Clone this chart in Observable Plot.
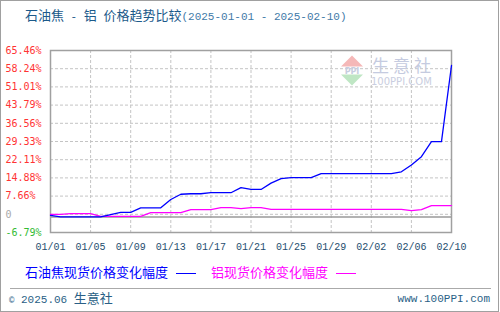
<!DOCTYPE html>
<html>
<head>
<meta charset="utf-8">
<script src="https://cdn.jsdelivr.net/npm/d3@7"></script>
<script src="https://cdn.jsdelivr.net/npm/@observablehq/plot@0.6"></script>
<style>
  body { margin: 0; background: #fff; }
  #wrap { position: relative; width: 500px; height: 312px; overflow: hidden; background: #fff; font-family: "Noto Sans CJK SC", sans-serif; }
  .abs { position: absolute; white-space: pre; }
  .mono { font-family: "Liberation Mono", "DejaVu Sans Mono", monospace; }
</style>
</head>
<body>
<div id="wrap">
  <div id="plot" class="abs" style="left:0;top:0"></div>
  <div class="abs" style="left:25px;top:6px;font-size:13px;line-height:18px;color:#1c5a8a">石油焦<span class="mono" style="font-size:11px"> - </span>铝<span class="mono" style="font-size:11px"> </span>价格趋势比较<span class="mono" style="font-size:11px;color:#3f7aa8">(2025-01-01 - 2025-02-10)</span></div>
  <!-- watermark -->
  <svg class="abs" style="left:338px;top:52px" width="110" height="40">
    <polygon points="3,14.5 14,3.5 25,14.5" fill="#f5b8b8"/>
    <polygon points="3,22.5 25,22.5 14,33.5" fill="#bfe6c4"/>
    <text x="14" y="21.5" text-anchor="middle" font-family="DejaVu Sans" font-size="8" font-weight="bold" fill="#c7cde0">PPI</text>
    <text x="34" y="20" font-family="Noto Sans CJK SC" font-size="17" letter-spacing="4" fill="#c5cbe0">生意社</text>
    <text x="33" y="32.5" font-family="DejaVu Sans" font-size="10" fill="#c9cee0">100PPI.COM</text>
  </svg>
  <div id="legend" class="abs" style="left:25px;top:263px;font-size:13px;line-height:18px"></div>
  <div class="abs" style="left:10px;top:288px;width:481px;height:1px;background:#aaa"></div>
  <div class="abs" style="left:9px;top:289px;font-size:13px;line-height:18px;color:#2a5f86"><span class="mono" style="font-size:9px">©</span><span class="mono" style="font-size:11px"> 2025.06 </span>生意社</div>
  <div class="abs mono" style="right:10px;top:290px;font-size:11px;line-height:18px;color:#2a5f86">www.100PPI.com</div>
  <div class="abs" style="left:0;top:0;width:497px;height:310px;border:1px solid #a0a0a0"></div>
</div>
<script>
// ---- data ----
const startDate = "2025-01-01";
const endDate = "2025-02-10";
const seriesNames = ["石油焦现货价格变化幅度", "铝现货价格变化幅度"];
const seriesColors = ["#0000ff", "#ff00ff"];
// daily change (%) from 2025-01-01 to 2025-02-10
const petcoke = [0, -0.62, -0.62, -0.62, -0.62, -0.62, 0.3, 1.2, 1.2, 3.0,
  3.0, 3.0, 6.3, 8.4, 8.6, 8.6, 9.0, 9.0, 9.0, 11.0,
  10.3, 10.3, 12.8, 14.6, 15.0, 15.0, 15.0, 16.6, 16.6, 16.6,
  16.6, 16.6, 16.6, 16.6, 16.6, 17.3, 20.0, 23.3, 29.3, 29.3,
  59.5];
const aluminium = [0.4, 0.4, 0.7, 0.7, 0.7, -0.4, -0.4, -0.4, -0.4, -0.4,
  1.1, 1.1, 1.1, 1.1, 2.3, 2.3, 2.3, 3.1, 3.1, 2.7,
  3.1, 3.1, 2.4, 2.4, 2.4, 2.4, 2.4, 2.4, 2.4, 2.4,
  2.4, 2.4, 2.4, 2.4, 2.4, 2.4, 1.9, 2.3, 3.9, 3.9,
  3.9];
const xTickLabels = ["01/01", "01/05", "01/09", "01/13", "01/17", "01/21", "01/25", "01/29", "02/02", "02/06", "02/10"];
const yTickLabels = ["-6.79%", "0", "7.66%", "14.88%", "22.11%", "29.33%", "36.56%", "43.79%", "51.01%", "58.24%", "65.46%"];
const yMin = -6.79, yMax = 65.46;

// ---- build ----
const d0 = new Date(startDate + "T00:00:00Z");
const d1 = new Date(endDate + "T00:00:00Z");
const days = d3.utcDay.range(d0, d3.utcDay.offset(d1, 1));
const rows = [];
[petcoke, aluminium].forEach((arr, s) => arr.forEach((v, i) => rows.push({date: days[i], value: v, series: seriesNames[s]})));
const xTicks = xTickLabels.map(l => new Date(`2025-${l.slice(0,2)}-${l.slice(3,5)}T00:00:00Z`));
const yTicks = yTickLabels.map((_, i) => yMin + i * (yMax - yMin) / (yTickLabels.length - 1));
const yLabelColor = l => l === "0" ? "#a8a8a8" : (l.startsWith("-") ? "#33bb33" : "#ff3333");

const chart = Plot.plot({
  width: 500,
  height: 262,
  marginTop: 50,
  marginBottom: 30,
  marginLeft: 50,
  marginRight: 49,
  style: {background: "transparent", overflow: "visible"},
  x: {type: "utc", domain: [d0, d1]},
  y: {domain: [yMin, yMax]},
  marks: [
    Plot.gridY(yTicks, {stroke: "#c4c4c4", strokeOpacity: 1, strokeDasharray: "3,2"}),
    Plot.gridX(xTicks, {stroke: "#c4c4c4", strokeOpacity: 1, strokeDasharray: "3,2"}),
    Plot.ruleY([0], {stroke: "#9a9a9a", strokeWidth: 1.5, dy: 1.5}),
    Plot.frame({stroke: "#a0a0a0", strokeWidth: 1.5}),
    Plot.axisX(xTicks, {tickSize: 0, tickPadding: 10, tickFormat: d3.utcFormat("%m/%d"), fontSize: 10, fontFamily: "Liberation Mono, monospace", fill: "#1e4d6e", label: null}),
    Plot.axisY({ticks: [], label: null, tickSize: 0}),
    Plot.text(yTicks, {y: d => d, frameAnchor: "left", dx: -45, textAnchor: "start",
      text: (d, i) => yTickLabels[i], fill: (d, i) => yLabelColor(yTickLabels[i]),
      fontSize: 10, fontFamily: "DejaVu Sans Mono, monospace"}),
    Plot.line(rows.filter(r => r.series === seriesNames[1]), {x: "date", y: "value", stroke: seriesColors[1], strokeWidth: 1.3, curve: "linear"}),
    Plot.line(rows.filter(r => r.series === seriesNames[0]), {x: "date", y: "value", stroke: seriesColors[0], strokeWidth: 1.3, curve: "linear"})
  ]
});
document.getElementById("plot").appendChild(chart);

// legend
const lg = document.getElementById("legend");
seriesNames.forEach((n, i) => {
  const s = document.createElement("span");
  s.style.color = seriesColors[i];
  s.textContent = n;
  lg.appendChild(s);
  const line = document.createElement("span");
  line.style.cssText = `display:inline-block;width:20px;height:1px;background:${seriesColors[i]};vertical-align:middle;margin:0 ${i === 0 ? 15 : 0}px 0 8px;`;
  lg.appendChild(line);
});
</script>
</body>
</html>
